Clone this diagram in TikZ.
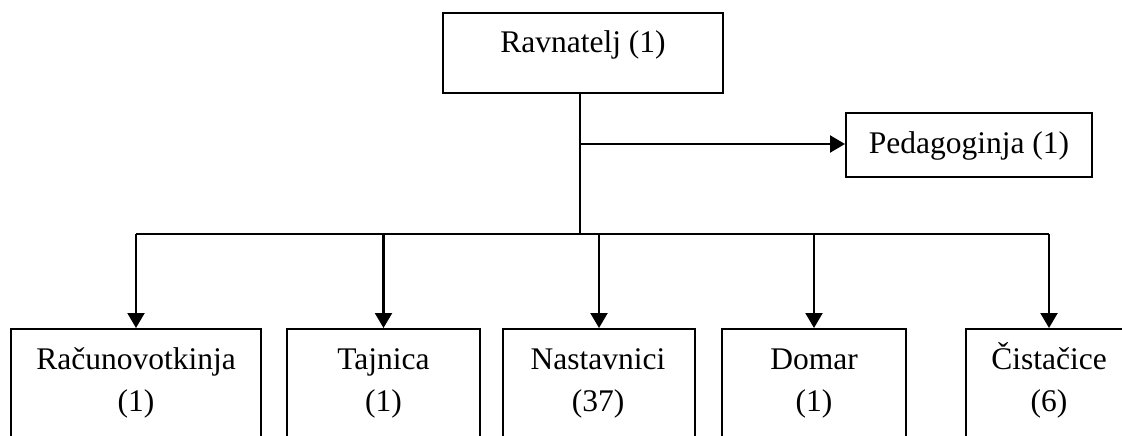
\documentclass[tikz,border=0pt]{standalone}
\usepackage{fontspec}
\setmainfont{Liberation Serif}
\usetikzlibrary{arrows.meta}
\begin{document}
\begin{tikzpicture}[x=1pt,y=-1pt,
		box/.style={draw,line width=2,inner sep=0pt},
		txt/.style={font=\fontsize{31.5}{42}\selectfont,align=center,anchor=base,inner sep=0pt},
		arr/.style={line width=2.2,-{Triangle[length=15pt,width=17pt]}}]
		\useasboundingbox (0,0) rectangle (1122,436);
		\node[box,minimum width=280,minimum height=80] (rav) at (583,53) {};
		\node[box,minimum width=246,minimum height=64] (ped) at (969,145) {};
		\node[box,anchor=north,minimum width=250,minimum height=140] (rac) at (136,328) {};
		\node[box,anchor=north,minimum width=193,minimum height=140] (taj) at (383.5,328) {};
		\node[box,anchor=north,minimum width=192,minimum height=140] (nas) at (599,328) {};
		\node[box,anchor=north,minimum width=184,minimum height=140] (dom) at (814,328) {};
		\node[box,anchor=north,minimum width=166,minimum height=140] (cis) at (1049,328) {};
		% base of a two-line node is its last line
		\node[txt] (ravT) at (583,53) {Ravnatelj (1)};
		\node[txt] (pedT) at (969,153) {Pedagoginja (1)};
		\node[txt] (racT) at (136,411) {Računovotkinja\\(1)};
		\node[txt] (tajT) at (383.5,411) {Tajnica\\(1)};
		\node[txt] (nasT) at (598,411) {Nastavnici\\(37)};
		\node[txt] (domT) at (814,411) {Domar\\(1)};
		\node[txt] (cisT) at (1049,411) {Čistačice\\(6)};
		\coordinate (B) at (580,234);
		\coordinate (P) at (580,144);
		\draw [line width=1.8] (B |- rav.south) to (B);
		\draw [arr] (P) to (P -| ped.west);
		\draw [line width=1.8] (rac.north |- B) to (cis.north |- B);
		\foreach \n in {rac,taj,nas,dom,cis}
			\draw [arr] (\n.north |- B) to (\n.north);
	\end{tikzpicture}
\end{document}
